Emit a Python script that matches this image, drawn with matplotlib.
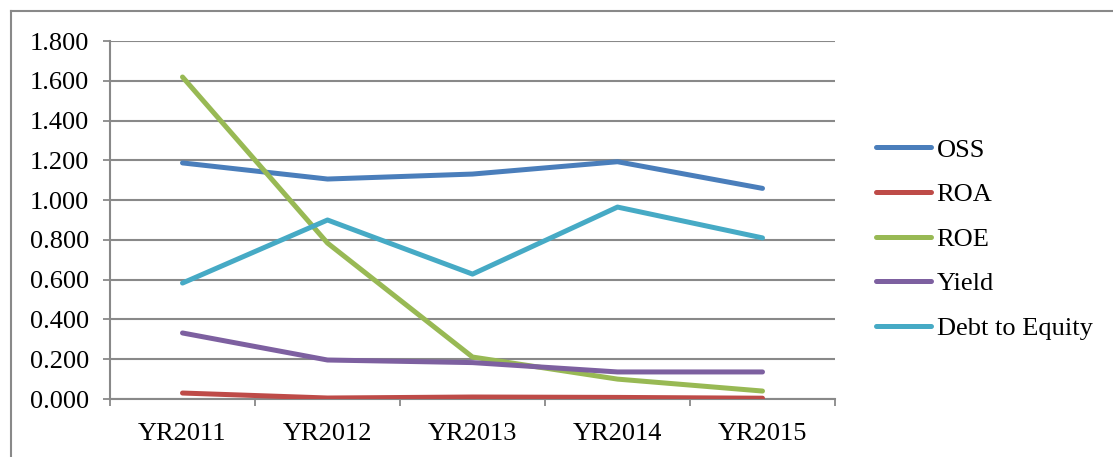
import matplotlib
matplotlib.use("Agg")
import matplotlib.pyplot as plt
from matplotlib.lines import Line2D

categories = ["YR2011", "YR2012", "YR2013", "YR2014", "YR2015"]
oss = [1.187, 1.106, 1.131, 1.193, 1.059]
roa = [0.030, 0.005, 0.010, 0.008, 0.004]
roe = [1.619, 0.784, 0.211, 0.100, 0.040]
yield_ = [0.332, 0.196, 0.183, 0.136, 0.136]
dte = [0.583, 0.900, 0.628, 0.965, 0.810]
yticks = [0.0, 0.2, 0.4, 0.6, 0.8, 1.0, 1.2, 1.4, 1.6, 1.8]

series = [("OSS", oss, "#4a7ebb"), ("ROA", roa, "#be4b48"), ("ROE", roe, "#98b954"),
          ("Yield", yield_, "#7d60a0"), ("Debt to Equity", dte, "#46aac5")]

plt.rcParams["font.family"] = ["Liberation Serif", "DejaVu Serif"]
W, H = 1113, 457
fig = plt.figure(figsize=(W / 100, H / 100), dpi=100)
ax = fig.add_axes([110 / W, (H - 399) / H, 725 / W, 358 / H])

x = list(range(len(categories)))
for name, vals, col in series:
    ax.plot(x, vals, color=col, lw=3.6, label=name, solid_capstyle="round", solid_joinstyle="round", zorder=3)

ax.set_xlim(-0.5, len(categories) - 0.5)
ax.set_ylim(0, 1.8)
ax.set_yticks(yticks)
ax.set_yticklabels([f"{v:.3f}" for v in yticks], fontsize=19)
ax.set_xticks(x)
ax.set_xticklabels(categories, fontsize=19)
ax.set_xticks([i - 0.5 for i in range(len(categories) + 1)], minor=True)
ax.tick_params(axis="x", which="major", length=0, pad=17)
ax.tick_params(axis="x", which="minor", length=5, width=1.3, color="#898989", direction="out")
ax.tick_params(axis="y", length=5, width=1.3, color="#898989", direction="out", pad=10)
ax.grid(axis="y", color="#898989", lw=1.5, zorder=1)
for s in ["top", "right"]:
    ax.spines[s].set_visible(False)
for s in ["left", "bottom"]:
    ax.spines[s].set_color("#898989")
    ax.spines[s].set_linewidth(1.5)

leg = ax.legend(loc="center left", bbox_to_anchor=(876 / W, (H - 239) / H), bbox_transform=fig.transFigure,
                frameon=False, fontsize=19, handlelength=2.1, handletextpad=0.2, labelspacing=0.8,
                borderaxespad=0, borderpad=0)

# outer chart border (left and top visible)
fig.add_artist(Line2D([11 / W, 11 / W], [0, (H - 11) / H], color="#898989", lw=1.5, transform=fig.transFigure))
fig.add_artist(Line2D([11 / W, 1], [(H - 11) / H, (H - 11) / H], color="#898989", lw=1.5, transform=fig.transFigure))

fig.savefig("out.png", dpi=100)
